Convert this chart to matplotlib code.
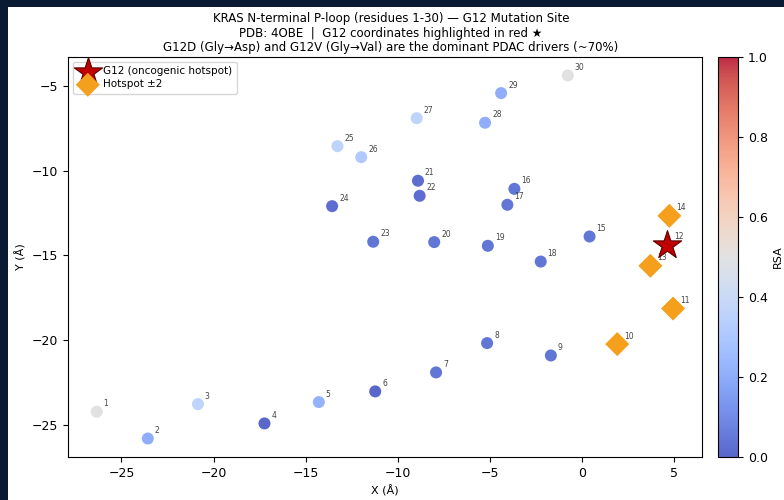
import numpy as np
import matplotlib.pyplot as plt
from matplotlib.patches import Rectangle

# residue numbers and CA coordinates (Å)
residues = list(range(1, 31))
x = [-26.34, -23.57, -20.85, -17.24, -14.29, -11.23, -7.93, -5.16, -1.70, 1.90,
     4.93, 4.62, 3.70, 4.73, 0.40, -3.68, -4.06, -2.25, -5.12, -8.03,
     -8.91, -8.82, -11.34, -13.57, -13.28, -11.99, -8.98, -5.27, -4.40, -0.78]
y = [-24.23, -25.81, -23.78, -24.92, -23.66, -23.03, -21.91, -20.18, -20.91, -20.24,
     -18.14, -14.38, -15.62, -12.67, -13.89, -11.08, -12.02, -15.37, -14.44, -14.22,
     -10.60, -11.49, -14.20, -12.10, -8.56, -9.21, -6.91, -7.18, -5.43, -4.39]
rsa = [0.50, 0.20, 0.36, 0.00, 0.22, 0.00, 0.04, 0.04, 0.04, 0.20,
       0.20, 0.90, 0.20, 0.20, 0.04, 0.04, 0.04, 0.04, 0.04, 0.04,
       0.02, 0.02, 0.04, 0.02, 0.36, 0.31, 0.36, 0.20, 0.20, 0.50]

hotspot = 12
window = [10, 11, 13, 14]

x = np.array(x)
y = np.array(y)
rsa = np.array(rsa)
res = np.array(residues)

fig = plt.figure(figsize=(7.84, 5.0), dpi=100, facecolor='#0b1a33')
fig.patches.append(Rectangle((8 / 784, 0), 1, 1 - 7 / 500, transform=fig.transFigure,
                             facecolor='white', edgecolor='none', zorder=-10))

ax = fig.add_axes([68 / 784, 1 - 457 / 500, 634 / 784, 400 / 500])
cax = fig.add_axes([718 / 784, 1 - 457 / 500, 20 / 784, 400 / 500])

# regular residues coloured by RSA
normal = ~np.isin(res, window + [hotspot])
sc = ax.scatter(x[normal], y[normal], c=rsa[normal], cmap='coolwarm', vmin=0, vmax=1,
                s=75, alpha=0.85, edgecolors='none', zorder=2)

# hotspot window
win = np.isin(res, window)
ax.scatter(x[win], y[win], marker='D', s=150, color='#f4a01c', edgecolors='none',
           zorder=3, label='Hotspot ±2')

# G12
g = res == hotspot
ax.scatter(x[g], y[g], marker='*', s=460, color='#c00000', edgecolors='#5a0000',
           linewidths=0.8, zorder=5, label='G12 (oncogenic hotspot)')

for r, xi, yi in zip(res, x, y):
    ax.annotate(str(r), (xi, yi), xytext=(5, 4), textcoords='offset points',
                fontsize=5.5, color='#444444', zorder=4)

ax.set_xlim(-27.9, 6.5)
ax.set_ylim(-26.9, -3.3)
ax.set_xlabel('X (Å)', fontsize=8)
ax.set_ylabel('Y (Å)', fontsize=8)
ax.tick_params(labelsize=9)

handles, labels = ax.get_legend_handles_labels()
ax.legend(handles[::-1], labels[::-1], loc='upper left', fontsize=7.5,
          borderpad=0.4, handletextpad=0.5, labelspacing=0.3)

cb = fig.colorbar(sc, cax=cax)
cb.solids.set_alpha(0.85)
cb.set_label('RSA', fontsize=8)
cb.ax.tick_params(labelsize=9)

fig.suptitle('KRAS N-terminal P-loop (residues 1-30) — G12 Mutation Site\n'
             'PDB: 4OBE  |  G12 coordinates highlighted in red ★\n'
             'G12D (Gly→Asp) and G12V (Gly→Val) are the dominant PDAC drivers (~70%)',
             x=391 / 784, y=1 - 12 / 500, fontsize=8.5, linespacing=1.15)

plt.savefig('out.png', dpi=100, facecolor=fig.get_facecolor())
